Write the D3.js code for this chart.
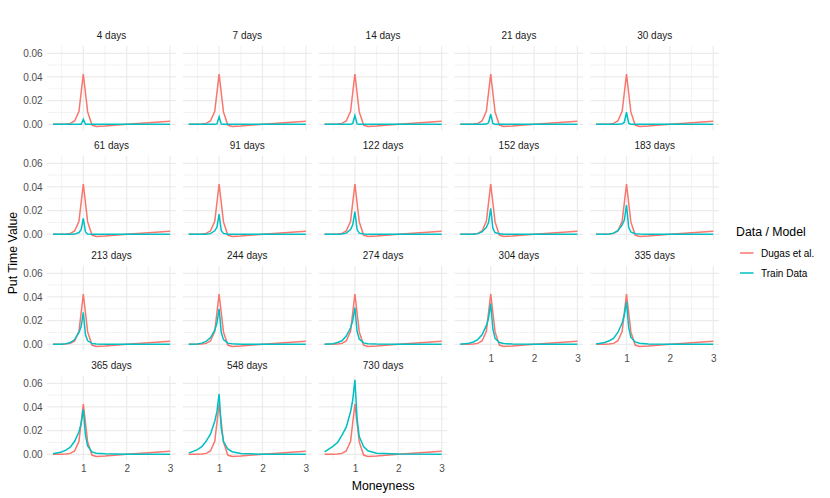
<!DOCTYPE html>
<html>
<head>
<meta charset="utf-8">
<script src="https://cdn.jsdelivr.net/npm/d3@7"></script>
<style>
  body { margin: 0; background: #ffffff; }
  text { font-family: "Liberation Sans", Arial, sans-serif; }
</style>
</head>
<body>
<div id="chart"></div>
<script>
// Facet labels (one panel per maturity)
var maturities = ["4 days", "7 days", "14 days", "21 days", "30 days",
                  "61 days", "91 days", "122 days", "152 days", "183 days",
                  "213 days", "244 days", "274 days", "304 days", "335 days",
                  "365 days", "548 days", "730 days"];

// Dugas et al. curve (same in every panel)
var dugasMoneyness = [0.3, 0.5, 0.6, 0.7, 0.8, 0.9, 1.0, 1.1, 1.2, 1.3, 1.5, 2.0, 2.5, 3.0];
var dugasValues    = [0, 0, 0.0002, 0.0008, 0.0028, 0.011, 0.0425, 0.0105, -0.0006, -0.0018, -0.0014, 0.0001, 0.0013, 0.0025];

// Train data curves, one row per maturity
var trainMoneyness = [0.3, 0.5, 0.6, 0.7, 0.8, 0.9, 0.95, 1.0, 1.05, 1.1, 1.2, 1.3, 1.5, 2.0, 3.0];
var trainValues = [
  [0, 0, 0, 0, 0, 0, 0, 0.0042, 0, 0, 0, 0, 0, 0, 0],
  [0, 0, 0, 0, 0, 0, 0.0004, 0.0064, 0.0002, 0, 0, 0, 0, 0, 0],
  [0, 0, 0, 0, 0, 0, 0.0008, 0.0075, 0.0004, 0, 0, 0, 0, 0, 0],
  [0, 0, 0, 0, 0, 0.0002, 0.0013, 0.0085, 0.0007, 0, 0, 0, 0, 0, 0],
  [0, 0, 0, 0, 0, 0.0004, 0.0018, 0.0102, 0.001, 0.0001, 0, 0, 0, 0, 0],
  [0, 0, 0, 0, 0.0002, 0.0015, 0.004, 0.0135, 0.002, 0.0003, 0, 0, 0, 0, 0],
  [0, 0, 0, 0.0001, 0.0006, 0.003, 0.006, 0.017, 0.003, 0.0008, 0.0001, 0, 0, 0, 0],
  [0, 0, 0, 0.0003, 0.001, 0.004, 0.008, 0.0192, 0.004, 0.001, 0.0002, 0, 0, 0, 0],
  [0, 0, 0.0001, 0.0006, 0.002, 0.006, 0.010, 0.022, 0.005, 0.0015, 0.0004, 0.0001, 0, 0, 0],
  [0, 0, 0.0003, 0.001, 0.003, 0.008, 0.012, 0.0248, 0.006, 0.002, 0.0005, 0.0002, 0, 0, 0],
  [0, 0.0001, 0.0006, 0.0015, 0.004, 0.010, 0.015, 0.027, 0.008, 0.003, 0.0008, 0.0003, 0.0001, 0, 0],
  [0, 0.0003, 0.001, 0.0025, 0.0055, 0.012, 0.018, 0.030, 0.010, 0.004, 0.001, 0.0004, 0.0001, 0, 0],
  [0, 0.0005, 0.0015, 0.003, 0.007, 0.014, 0.020, 0.031, 0.011, 0.0045, 0.0012, 0.0005, 0.0002, 0, 0],
  [0.0001, 0.001, 0.002, 0.004, 0.008, 0.016, 0.022, 0.0345, 0.013, 0.005, 0.0015, 0.0007, 0.0002, 0, 0],
  [0.0002, 0.0015, 0.003, 0.005, 0.010, 0.018, 0.025, 0.036, 0.014, 0.006, 0.002, 0.0009, 0.0003, 0, 0],
  [0.0005, 0.002, 0.0035, 0.006, 0.011, 0.019, 0.026, 0.038, 0.016, 0.007, 0.002, 0.001, 0.0004, 0, 0],
  [0.001, 0.004, 0.0065, 0.011, 0.017, 0.028, 0.036, 0.051, 0.022, 0.011, 0.0045, 0.0022, 0.0008, 0.0001, 0],
  [0.002, 0.007, 0.010, 0.016, 0.023, 0.036, 0.046, 0.063, 0.030, 0.015, 0.0065, 0.003, 0.001, 0.0002, 0]
];

// Axis ticks
var xMajor = [1, 2, 3];
var xMinor = [0.5, 1.5, 2.5];
var yMajor = [0, 0.02, 0.04, 0.06];
var yMinor = [0.01, 0.03, 0.05];

var seriesNames = ["Dugas et al.", "Train Data"];
var colors = ["#F8766D", "#00BFC4"];

// Canvas and panel layout
var w = 830;
var h = 498;
var nCols = 5;
var panelLeft = 47.1;
var panelTop = 45.9;
var panelW = 128.8;
var panelH = 84.4;
var colStep = 135.8;
var rowStep = 110;

var svg = d3.select("#chart")
            .append("svg")
            .attr("width", w)
            .attr("height", h);

svg.append("rect")
   .attr("width", w)
   .attr("height", h)
   .attr("fill", "#ffffff");

// Shared scales with ggplot-like 5% expansion
var allValues = d3.merge(trainValues).concat(dugasValues);
var yMin = d3.min(allValues), yMax = d3.max(allValues);
var yPad = (yMax - yMin) * 0.05;
var xPad = (3 - 0.3) * 0.05;

var xScale = d3.scaleLinear()
               .domain([0.3 - xPad, 3 + xPad])
               .range([0, panelW]);

var yScale = d3.scaleLinear()
               .domain([yMin - yPad, yMax + yPad])
               .range([panelH, 0]);

var line = d3.line()
             .x(d => xScale(d[0]))
             .y(d => yScale(d[1]));

maturities.forEach(function(label, i) {
    var col = i % nCols;
    var row = Math.floor(i / nCols);
    var g = svg.append("g")
               .attr("transform", `translate(${panelLeft + col * colStep}, ${panelTop + row * rowStep})`);

    // Grid lines
    g.selectAll(".yminor").data(yMinor).enter().append("line")
     .attr("x1", 0).attr("x2", panelW)
     .attr("y1", d => yScale(d)).attr("y2", d => yScale(d))
     .attr("stroke", "#EBEBEB").attr("stroke-width", 0.6);
    g.selectAll(".xminor").data(xMinor).enter().append("line")
     .attr("y1", 0).attr("y2", panelH)
     .attr("x1", d => xScale(d)).attr("x2", d => xScale(d))
     .attr("stroke", "#EBEBEB").attr("stroke-width", 0.6);
    g.selectAll(".ymajor").data(yMajor).enter().append("line")
     .attr("x1", 0).attr("x2", panelW)
     .attr("y1", d => yScale(d)).attr("y2", d => yScale(d))
     .attr("stroke", "#EBEBEB").attr("stroke-width", 1.2);
    g.selectAll(".xmajor").data(xMajor).enter().append("line")
     .attr("y1", 0).attr("y2", panelH)
     .attr("x1", d => xScale(d)).attr("x2", d => xScale(d))
     .attr("stroke", "#EBEBEB").attr("stroke-width", 1.2);

    // Strip label
    g.append("text")
     .attr("x", panelW / 2)
     .attr("y", -6.5)
     .attr("text-anchor", "middle")
     .attr("font-size", "10px")
     .attr("fill", "#1A1A1A")
     .text(label);

    // Lines: Dugas first, train data on top
    g.append("path")
     .datum(d3.zip(dugasMoneyness, dugasValues))
     .attr("d", line)
     .attr("fill", "none")
     .attr("stroke", colors[0])
     .attr("stroke-width", 1.5);

    g.append("path")
     .datum(d3.zip(trainMoneyness, trainValues[i]))
     .attr("d", line)
     .attr("fill", "none")
     .attr("stroke", colors[1])
     .attr("stroke-width", 1.5);

    // Y axis only on first column
    if (col === 0) {
        var yAxis = g.append("g")
                     .call(d3.axisLeft(yScale).tickValues(yMajor).tickSize(0).tickPadding(4.5)
                             .tickFormat(d3.format(".2f")));
        yAxis.select(".domain").remove();
        yAxis.selectAll("text")
             .attr("font-family", "Liberation Sans, Arial, sans-serif")
             .attr("font-size", "10px")
             .attr("fill", "#4D4D4D");
    }

    // X axis only where no panel sits below
    if (i + nCols >= maturities.length) {
        var xAxis = g.append("g")
                     .attr("transform", `translate(0, ${panelH})`)
                     .call(d3.axisBottom(xScale).tickValues(xMajor).tickSize(0).tickPadding(4.5)
                             .tickFormat(d3.format("d")));
        xAxis.select(".domain").remove();
        xAxis.selectAll("text")
             .attr("font-family", "Liberation Sans, Arial, sans-serif")
             .attr("font-size", "10px")
             .attr("fill", "#4D4D4D");
    }
});

// Axis titles
var panelsRight = panelLeft + (nCols - 1) * colStep + panelW;
var panelsBottom = panelTop + 3 * rowStep + panelH;

svg.append("text")
   .attr("x", (panelLeft + panelsRight) / 2)
   .attr("y", 489.5)
   .attr("text-anchor", "middle")
   .attr("font-size", "12.3px")
   .attr("fill", "#000000")
   .text("Moneyness");

svg.append("text")
   .attr("transform", `translate(16.5, ${(panelTop + panelsBottom) / 2}) rotate(-90)`)
   .attr("text-anchor", "middle")
   .attr("font-size", "12.3px")
   .attr("fill", "#000000")
   .text("Put Time Value");

// Legend
var legend = svg.append("g").attr("transform", "translate(736, 0)");

legend.append("text")
      .attr("x", 0)
      .attr("y", 236)
      .attr("font-size", "12.3px")
      .attr("fill", "#000000")
      .text("Data / Model");

seriesNames.forEach(function(name, k) {
    var ky = 253 + k * 20;
    legend.append("line")
          .attr("x1", 4).attr("x2", 17.5)
          .attr("y1", ky).attr("y2", ky)
          .attr("stroke", colors[k])
          .attr("stroke-width", 1.5);
    legend.append("text")
          .attr("x", 25)
          .attr("y", ky + 3.6)
          .attr("font-size", "10px")
          .attr("fill", "#000000")
          .text(name);
});
</script>
</body>
</html>
